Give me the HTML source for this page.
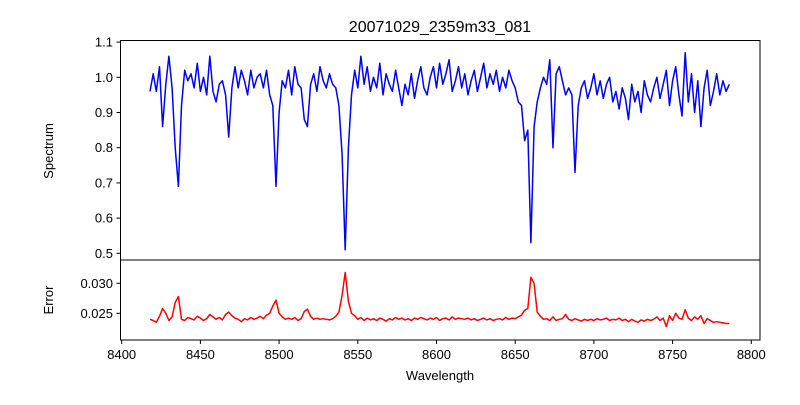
<!DOCTYPE html>
<html><head><meta charset="utf-8"><style>
body{margin:0;background:#fff}
svg text{font-family:"Liberation Sans",sans-serif;fill:#000}
</style></head><body>
<svg id="chart" width="800" height="400" xmlns="http://www.w3.org/2000/svg">
<rect width="800" height="400" fill="#fff"/>
<text x="440" y="32" font-size="16" text-anchor="middle">20071029_2359m33_081</text>
<g id="topPanel"></g><g id="botPanel"></g><g id="xAxisGroup"></g>
<rect x="120.5" y="40.5" width="639.5" height="219.5" fill="none" stroke="#000" stroke-width="1"/>
<rect x="120.5" y="260" width="639.5" height="80" fill="none" stroke="#000" stroke-width="1"/>
<text transform="translate(53,151) rotate(-90)" font-size="13" text-anchor="middle">Spectrum</text>
<text transform="translate(53,300) rotate(-90)" font-size="13" text-anchor="middle">Error</text>
<text x="440" y="380" font-size="13" text-anchor="middle">Wavelength</text>
</svg>
<script>
const lambdaStart = 8418;
const lambdaStep = 2;
const spectrum = [
0.96,1.01,0.96,1.03,0.86,0.98,1.06,0.97,0.80,0.69,
0.92,1.02,0.99,1.01,0.97,1.04,0.96,1.00,0.95,1.06,
0.96,0.93,0.98,0.99,0.95,0.83,0.97,1.03,0.97,1.02,
0.99,0.95,1.02,0.97,1.00,1.01,0.97,1.02,0.95,0.92,
0.69,0.90,0.99,0.97,1.02,0.95,1.03,0.98,0.97,0.88,
0.86,0.98,1.01,0.96,1.03,0.99,0.97,1.01,0.98,0.97,
0.92,0.78,0.51,0.80,0.95,1.02,0.97,1.06,0.98,1.03,
0.96,1.00,0.97,1.04,0.95,1.01,0.98,0.96,1.02,0.97,
0.92,0.98,0.95,1.01,0.94,0.99,1.03,0.97,0.95,1.00,
1.03,0.97,1.04,0.98,1.01,1.05,0.96,0.99,1.03,0.97,
1.01,0.95,0.99,1.02,0.96,1.00,1.04,0.97,1.01,0.98,
1.02,0.96,1.00,0.97,1.02,0.99,0.97,0.93,0.92,0.82,
0.85,0.53,0.86,0.93,0.97,1.00,0.98,1.05,0.80,1.01,
1.03,0.99,0.95,0.97,0.95,0.73,0.92,0.97,0.99,0.94,
0.97,1.01,0.95,0.99,0.94,0.98,1.00,0.93,0.96,0.91,
0.97,0.94,0.88,0.98,0.93,0.96,0.90,0.99,0.95,0.93,
0.97,1.00,0.94,0.98,1.02,0.92,0.99,1.03,0.95,0.89,
1.07,0.93,1.01,0.90,0.99,0.86,0.97,1.02,0.92,0.96,
1.01,0.95,0.99,0.96,0.98];
const errorVals = [
.0240,.0238,.0235,.0245,.0258,.0250,.0238,.0244,.0268,.0278,
.0240,.0238,.0243,.0241,.0239,.0245,.0242,.0238,.0241,.0248,
.0244,.0240,.0243,.0239,.0248,.0252,.0246,.0242,.0240,.0236,
.0241,.0239,.0243,.0240,.0242,.0245,.0241,.0247,.0250,.0262,
.0272,.0250,.0244,.0240,.0242,.0240,.0243,.0238,.0241,.0253,
.0257,.0245,.0240,.0242,.0240,.0241,.0240,.0239,.0241,.0245,
.0252,.0280,.0318,.0270,.0250,.0246,.0240,.0243,.0238,.0242,
.0239,.0241,.0238,.0242,.0240,.0237,.0241,.0239,.0243,.0240,
.0242,.0239,.0241,.0238,.0242,.0240,.0243,.0241,.0239,.0242,
.0240,.0243,.0238,.0241,.0242,.0239,.0244,.0240,.0242,.0241,
.0240,.0242,.0239,.0241,.0238,.0240,.0242,.0239,.0241,.0238,
.0240,.0241,.0239,.0243,.0240,.0242,.0241,.0244,.0247,.0255,
.0258,.0310,.0300,.0252,.0245,.0240,.0241,.0238,.0244,.0238,
.0240,.0241,.0248,.0240,.0238,.0241,.0239,.0237,.0240,.0238,
.0240,.0238,.0241,.0239,.0240,.0242,.0238,.0240,.0239,.0242,
.0238,.0240,.0236,.0240,.0237,.0235,.0239,.0237,.0240,.0238,
.0240,.0244,.0238,.0242,.0228,.0246,.0238,.0250,.0242,.0240,
.0256,.0242,.0238,.0244,.0240,.0246,.0233,.0241,.0238,.0235,
.0236,.0235,.0234,.0233,.0233];
const xTicks = [8400,8450,8500,8550,8600,8650,8700,8750,8800];
const specTicks = [0.5,0.6,0.7,0.8,0.9,1.0,1.1];
const errTicks = [0.025,0.030];

const NS='http://www.w3.org/2000/svg';
const xS = v => 121.7 + (v-8400)*1.574;
const yTop = v => 77.3 - (v-1)*352;
const yBot = v => 313.3 - (v-0.025)*6000;
function mk(tag, attrs, parent){const e=document.createElementNS(NS,tag);for(const k in attrs)e.setAttribute(k,attrs[k]);parent.appendChild(e);return e;}
const gTop=document.getElementById('topPanel'), gBot=document.getElementById('botPanel'), gX=document.getElementById('xAxisGroup');

const sp = mk('polyline',{points:spectrum.map((v,i)=>xS(lambdaStart+i*lambdaStep).toFixed(1)+','+yTop(v).toFixed(1)).join(' '),fill:'none',stroke:'#0000ff','stroke-width':1.5,'stroke-linejoin':'round'},gTop);


const er = mk('polyline',{points:errorVals.map((v,i)=>xS(lambdaStart+i*lambdaStep).toFixed(1)+','+yBot(v).toFixed(1)).join(' '),fill:'none',stroke:'#ff0000','stroke-width':1.5,'stroke-linejoin':'round'},gBot);



specTicks.forEach(t=>{const y=yTop(t);
 const l=mk('line',{x1:116.5,x2:120.5,y1:y,y2:y,stroke:'#000'},gTop);
 
 
 const tx=mk('text',{x:113,y:y+4.5,'font-size':13,'text-anchor':'end'},gTop);
 
 
 tx.textContent=t.toFixed(1);});
errTicks.forEach(t=>{const y=yBot(t);
 const l=mk('line',{x1:116.5,x2:120.5,y1:y,y2:y,stroke:'#000'},gBot);
 
 
 const tx=mk('text',{x:113,y:y+4.5,'font-size':13,'text-anchor':'end'},gBot);
 
 
 tx.textContent=t.toFixed(3);});
xTicks.forEach(t=>{const x=xS(t);
 const l=mk('line',{x1:x,x2:x,y1:340,y2:344,stroke:'#000'},gX);
 
 
 const tx=mk('text',{x:x,y:359,'font-size':13,'text-anchor':'middle'},gX);
 
 
 tx.textContent=t;});
</script>
</body></html>
